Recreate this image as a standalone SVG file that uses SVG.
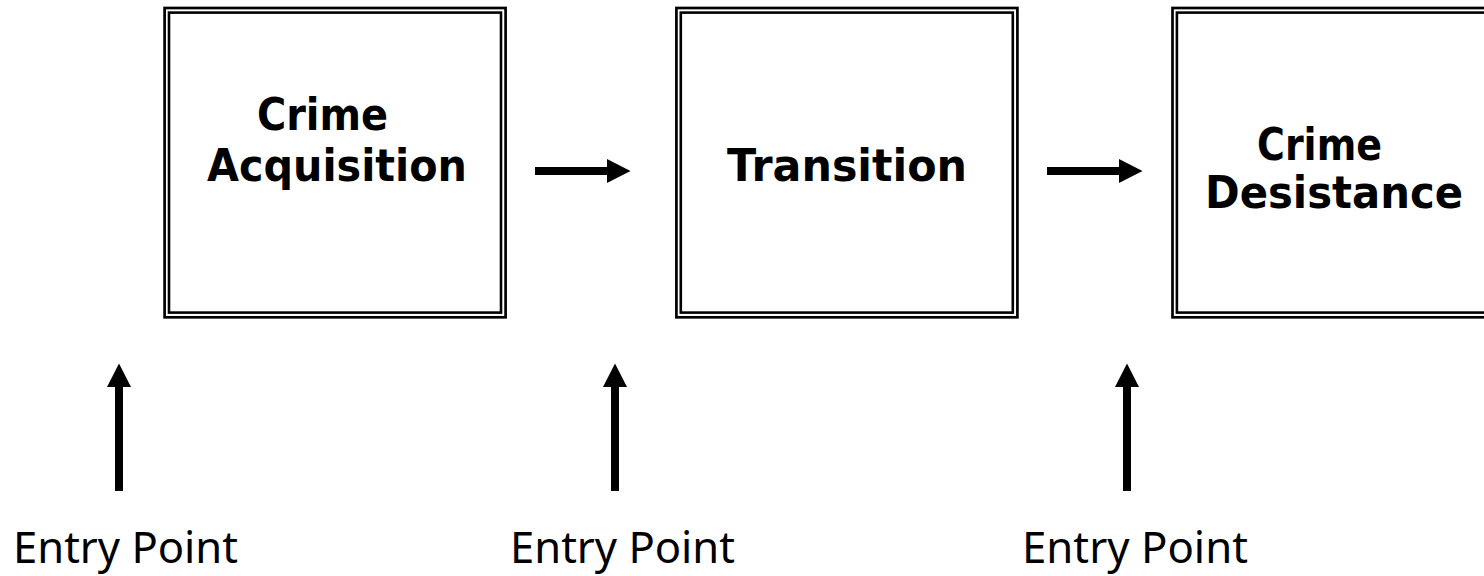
<svg xmlns="http://www.w3.org/2000/svg" width="1484" height="576" viewBox="0 0 1484 576">
<style>
.outer{fill:none;stroke:#000;stroke-width:2.7}
.inner{fill:none;stroke:#000;stroke-width:2.6}
.lbl{font-family:"DejaVu Sans","Liberation Sans",sans-serif;font-weight:bold;font-size:44px;fill:#000}
.entry{font-family:"Noto Sans","Open Sans",sans-serif;font-size:44px;fill:#000}
.arr{stroke:#000;stroke-width:8;fill:none;marker-end:url(#head)}
</style>
<defs>
<marker id="head" markerUnits="userSpaceOnUse" markerWidth="24" markerHeight="24" refX="0" refY="12" orient="auto" overflow="visible">
<path d="M0,0 L23.5,12 L0,24 z" fill="#000"/>
</marker>
</defs>
<rect width="1484" height="576" fill="#fff"/>
<g id="node-acquisition">
<rect class="outer" x="164.6" y="8" width="341" height="309.3"/>
<rect class="inner" x="169" y="12.6" width="332" height="300"/>
<text class="lbl" x="257" y="130" textLength="131" lengthAdjust="spacingAndGlyphs">Crime</text>
<text class="lbl" x="207" y="181" textLength="260" lengthAdjust="spacingAndGlyphs">Acquisition</text>
</g>
<g id="node-transition">
<rect class="outer" x="676.4" y="8" width="341" height="309.3"/>
<rect class="inner" x="680.8" y="12.6" width="332" height="300"/>
<text class="lbl" x="727" y="181" textLength="240" lengthAdjust="spacingAndGlyphs">Transition</text>
</g>
<g id="node-desistance">
<rect class="outer" x="1172.5" y="8" width="341" height="309.3"/>
<rect class="inner" x="1176.9" y="12.6" width="332" height="300"/>
<text class="lbl" x="1257" y="160" textLength="125" lengthAdjust="spacingAndGlyphs">Crime</text>
<text class="lbl" x="1205" y="208" textLength="258" lengthAdjust="spacingAndGlyphs">Desistance</text>
</g>
<g id="entry-1">
<text class="entry" x="13" y="563" textLength="225" lengthAdjust="spacingAndGlyphs">Entry Point</text>
</g>
<g id="entry-2">
<text class="entry" x="510" y="563" textLength="225" lengthAdjust="spacingAndGlyphs">Entry Point</text>
</g>
<g id="entry-3">
<text class="entry" x="1022" y="563" textLength="226" lengthAdjust="spacingAndGlyphs">Entry Point</text>
</g>
<g id="connectors">
<line class="arr" x1="535" y1="171" x2="607" y2="171"/>
<line class="arr" x1="1047" y1="171" x2="1119" y2="171"/>
<line class="arr" x1="119" y1="491" x2="119" y2="387"/>
<line class="arr" x1="615" y1="491" x2="615" y2="387"/>
<line class="arr" x1="1127" y1="491" x2="1127" y2="387"/>
</g>
</svg>
